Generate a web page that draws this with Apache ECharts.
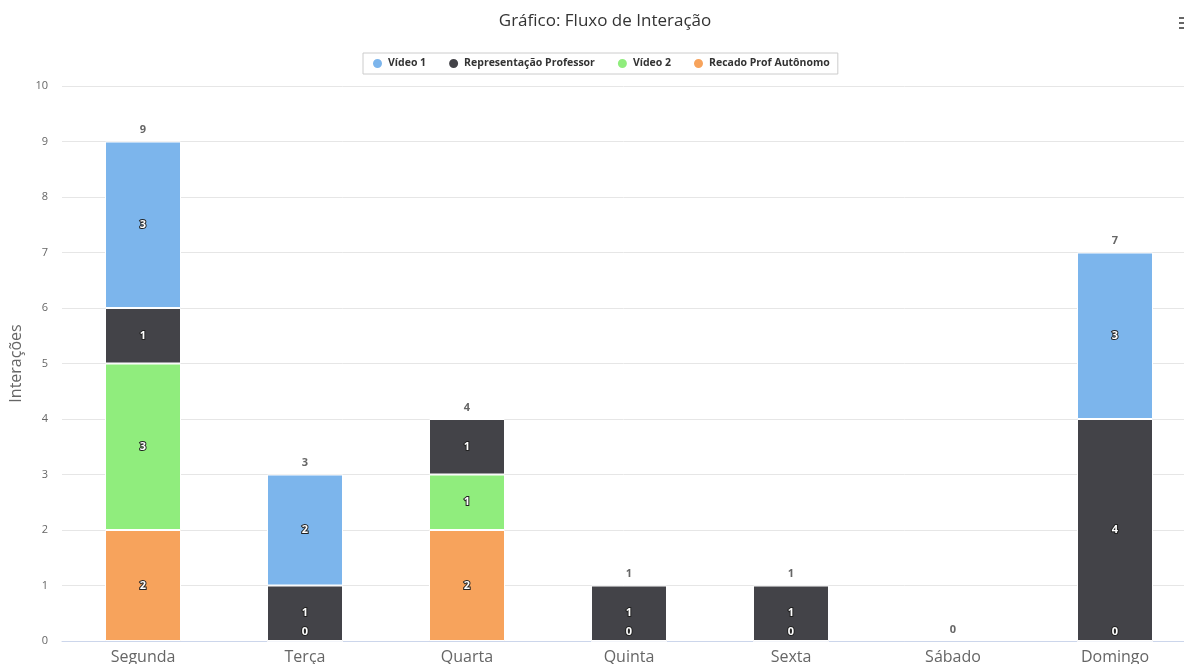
<!DOCTYPE html>
<html>
<head>
<meta charset="utf-8">
<script src="https://cdn.jsdelivr.net/npm/echarts@6/dist/echarts.min.js"></script>
<style>
  html, body { margin: 0; padding: 0; background: #fff; }
  #chart { width: 1184px; height: 664px; }
</style>
</head>
<body>
<div id="chart"></div>
<script>
const dias = ["Segunda", "Terça", "Quarta", "Quinta", "Sexta", "Sábado", "Domingo"];
const video1 = [3, 2, null, null, null, null, 3];
const representacao = [1, 1, 1, 1, 1, null, 4];
const video2 = [3, null, 1, null, null, null, null];
const recado = [2, 0, 2, 0, 0, null, 0];
const totais = [9, 3, 4, 1, 1, 0, 7];

const FONT = "'Open Sans', 'DejaVu Sans', sans-serif";

// zero values sit near the axis like in the original
function toItems(values) {
  return values.map(v => {
    if (v === 0) {
      return { value: 0, label: { position: "insideBottom", distance: 4 } };
    }
    return v;
  });
}

function mapToSerie(name, values, color) {
  return {
    name: name,
    type: "bar",
    stack: "total",
    barWidth: 76,
    data: toItems(values),
    itemStyle: { color: color, borderColor: "#fff", borderWidth: 1 },
    label: {
      show: true,
      position: "inside",
      color: "#fff",
      fontSize: 11,
      fontWeight: "bold",
      fontFamily: FONT,
      textBorderColor: "#222",
      textBorderWidth: 2
    }
  };
}

const myChart = echarts.init(document.getElementById("chart"));
const option = {
  animation: false,
  title: {
    text: "Gráfico: Fluxo de Interação",
    left: 600,
    textAlign: "center",
    top: 8,
    textStyle: { fontSize: 17, fontWeight: "normal", color: "#333", fontFamily: FONT }
  },
  toolbox: {
    right: -7,
    top: 17,
    padding: 0,
    itemSize: 12,
    feature: {
      myMenu: {
        show: true,
        title: "",
        icon: "path://M0,0H12V2H0ZM0,5H12V7H0ZM0,10H12V12H0Z",
        iconStyle: { color: "#666", borderColor: "#666", borderWidth: 0 },
        onclick: function () {}
      }
    }
  },
  legend: {
    top: 53,
    left: 363,
    data: ["Vídeo 1", "Representação Professor", "Vídeo 2", "Recado Prof Autônomo"],
    icon: "circle",
    itemWidth: 11,
    itemHeight: 11,
    itemGap: 21,
    padding: [4, 8, 4, 8],
    borderColor: "#ccc",
    borderWidth: 1,
    textStyle: { fontSize: 10.5, fontWeight: "bold", color: "#333", fontFamily: FONT }
  },
  grid: {
    left: 62,
    right: -12,
    top: 86,
    bottom: 23,
    containLabel: false,
    outerBoundsMode: "none"
  },
  xAxis: {
    type: "category",
    data: dias,
    axisLine: { lineStyle: { color: "#ccd6eb" } },
    axisTick: { show: false },
    axisLabel: { fontSize: 16, color: "#666", margin: 8, fontFamily: FONT }
  },
  yAxis: {
    type: "value",
    min: 0,
    max: 10,
    interval: 1,
    name: "Interações",
    nameLocation: "middle",
    nameRotate: 90,
    nameGap: 34,
    nameTextStyle: { fontSize: 16, color: "#666", fontFamily: FONT },
    axisLabel: { fontSize: 11, color: "#666", margin: 14, fontFamily: FONT },
    splitLine: { lineStyle: { color: "#e6e6e6" } }
  },
  series: [
    mapToSerie("Vídeo 1", video1, "#7cb5ec"),
    mapToSerie("Representação Professor", representacao, "#434348"),
    mapToSerie("Vídeo 2", video2, "#90ed7d"),
    mapToSerie("Recado Prof Autônomo", recado, "#f7a35c"),
    {
      name: "Total",
      type: "scatter",
      data: totais,
      symbolSize: 2,
      itemStyle: { color: "rgba(0,0,0,0)" },
      silent: true,
      label: {
        show: true,
        position: "top",
        distance: 5,
        opacity: 1,
        color: "#666",
        fontSize: 11,
        fontWeight: "bold",
        fontFamily: FONT
      },
      z: 5
    }
  ].reverse()
};
myChart.setOption(option);
</script>
</body>
</html>
